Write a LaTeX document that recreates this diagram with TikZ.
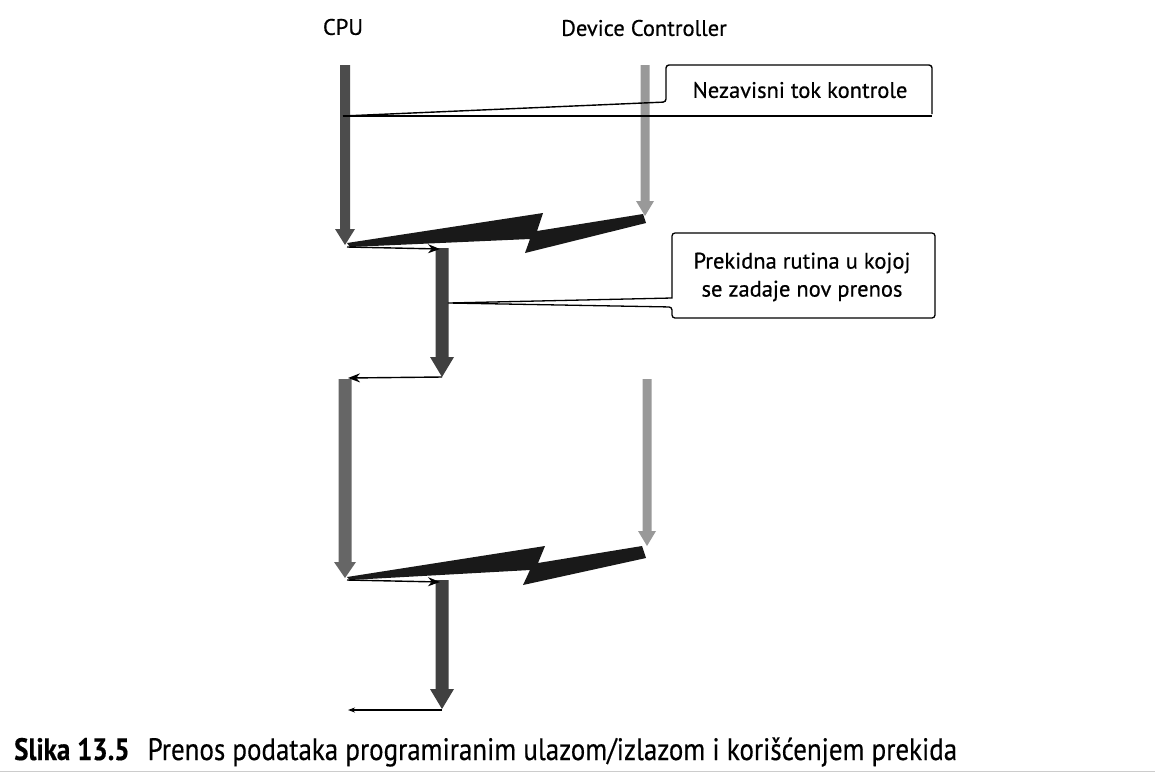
\documentclass[tikz,border=0pt]{standalone}
\usepackage{fontspec}
\setmainfont[FakeBold=0.6]{PT Sans}
\newfontfamily\capfont[FakeStretch=0.87,FakeBold=0.4]{PT Sans}
\usetikzlibrary{arrows.meta}
\newcommand\fatarr[7]{%
  \fill[#7] ({#1-#4},#2) -- ({#1+#4},#2) -- ({#1+#4},{#3-#6}) -- ({#1+#5},{#3-#6})
    -- (#1,#3) -- ({#1-#5},{#3-#6}) -- ({#1-#4},{#3-#6}) -- cycle;}
\begin{document}
\begin{tikzpicture}[x=1pt,y=-1pt,
  lbl/.style={font=\fontsize{22.5}{26}\selectfont, inner sep=0pt},
  boxtxt/.style={font=\fontsize{22.5}{28}\selectfont, align=center, inner sep=0pt},
  thin/.style={line width=1.4pt, -{Stealth[length=12pt,width=9pt]}},
  callout/.style={draw=black, line width=1.3pt, rounded corners=3pt, fill=white},
  bolt/.style={fill=black!90}
]
\useasboundingbox (0,0) rectangle (1155,772);
\fill[white] (0,0) rectangle (1155,772);

% labels
\node[lbl] (cpu) at (343,27) {CPU};
\node[lbl] (dev) at (644,28) {Device Controller};

% vertical fat arrows
\fatarr{345}{65}{245}{5}{10}{16}{black!70}
\fatarr{645}{65}{216}{4.5}{9}{15}{black!40}
\fatarr{442}{248}{377}{6.5}{12}{20}{black!75}
\fatarr{345}{379}{578}{6.5}{11}{16}{black!60}
\fatarr{647}{379}{546}{4.5}{9}{15}{black!40}
\fatarr{442}{580}{709}{6.5}{12}{20}{black!75}

% named coordinates
\coordinate (c1) at (347,247);
\coordinate (a1top) at (440,249);
\coordinate (a1tip) at (442,377);
\coordinate (c2top) at (348,378);
\coordinate (c2tip) at (347,580);
\coordinate (a2top) at (440,582);
\coordinate (a2tip) at (442,710);
\coordinate (c3) at (348,710);
\coordinate (p1) at (343,116);
\coordinate (p2) at (448,303);

% lightning bolts
\path[bolt] (347,243) -- (543,213) -- (537,231) -- (643,214) -- (646,223)
  -- (525,253) -- (530,239) -- (350,247) -- cycle;
\path[bolt] (347,577) -- (545,546) -- (538,563) -- (642,546) -- (646,558)
  -- (523,585) -- (530,570) -- (350,580) -- cycle;

% thin connectors
\draw[thin] (c1) -- (a1top);
\draw[thin] (a1tip) -- (c2top);
\draw[thin] (c2tip) -- (a2top);
\draw[line width=1.4pt, -{Stealth[length=7pt,width=5pt]}] (a2tip) -- (c3);

% callout 1
\draw[line width=1.4pt, rounded corners=3pt] (p1) -- (666,102) -- (666,65) -- (932,65) -- (932,114);
\draw[line width=2.8pt] (p1) -- (932,116);
\node[boxtxt] (t1) at (800,90) {Nezavisni tok kontrole};

% callout 2
\draw[callout] (672,298) -- (672,233) -- (935,233) -- (935,318) -- (672,318) -- (672,307)
  [sharp corners] -- (p2) -- cycle;
\node[boxtxt] (t2) at (802,277) {Prekidna rutina u kojoj\\se zadaje nov prenos};

% caption
\node[anchor=base west, inner sep=0pt, font=\capfont\fontsize{31}{34}\selectfont] (cap) at (14,760)
  {\textbf{Slika 13.5}\hspace{0.35em} Prenos podataka programiranim ulazom/izlazom i korišćenjem prekida};
\draw[black!20, line width=1pt] (0,771) -- (1155,771);
\end{tikzpicture}
\end{document}
